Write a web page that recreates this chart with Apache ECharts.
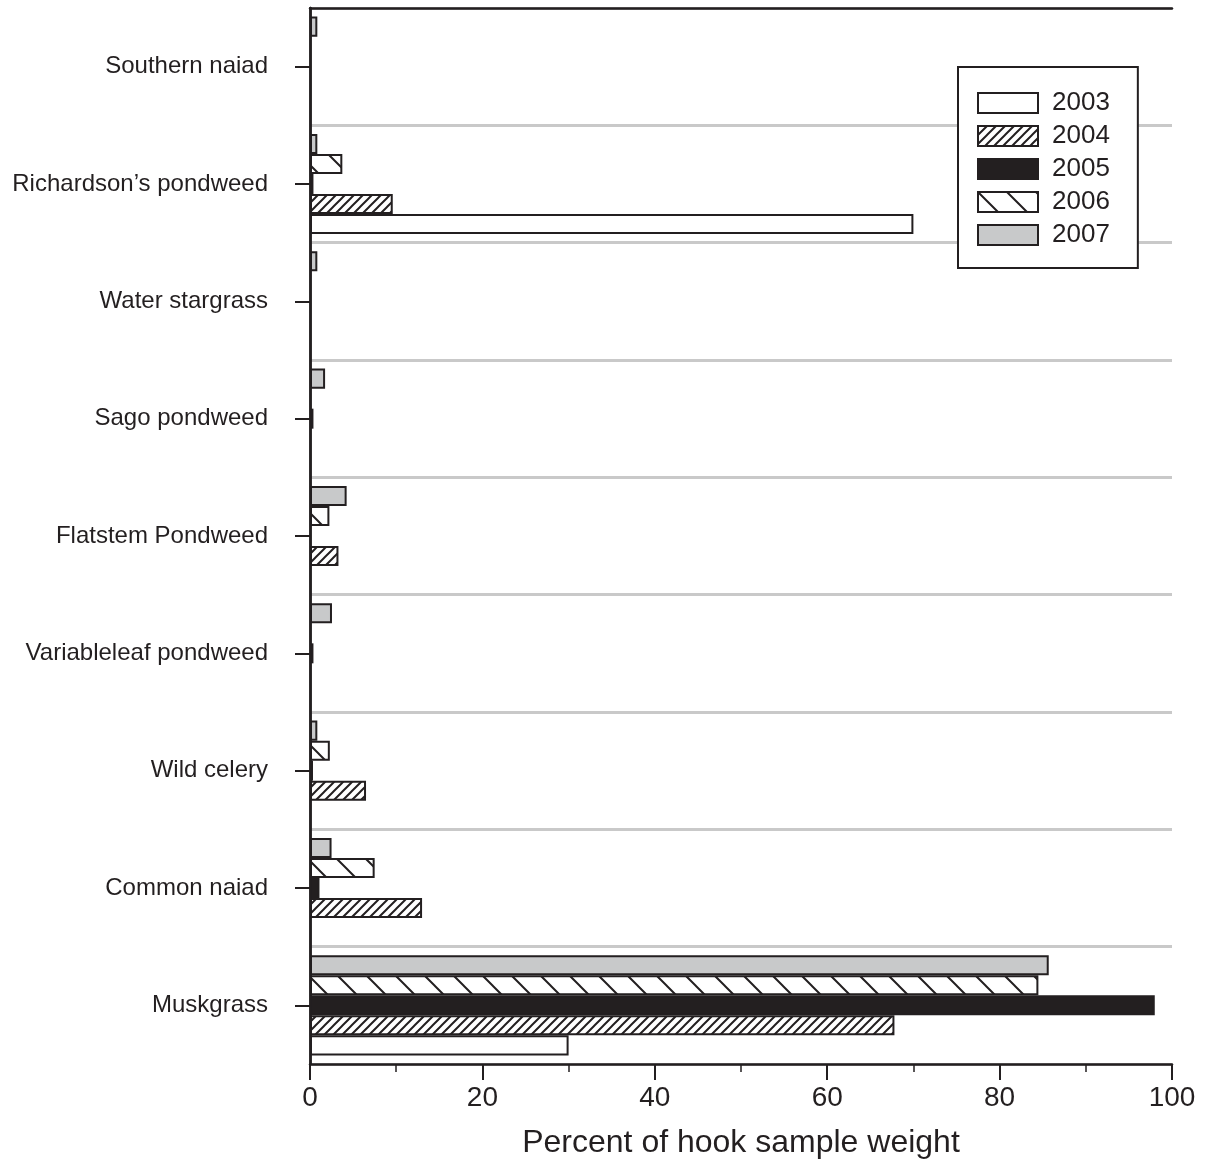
<!DOCTYPE html>
<html>
<head>
<meta charset="utf-8">
<script src="https://cdn.jsdelivr.net/npm/echarts@6/dist/echarts.min.js"></script>
<style>html,body{margin:0;padding:0;background:#fff;}#chart{width:1207px;height:1169px;}</style>
</head>
<body>
<div id="chart"></div>
<script>
// Categories listed bottom to top
const categories = ['Muskgrass', 'Common naiad', 'Wild celery', 'Variableleaf pondweed', 'Flatstem Pondweed', 'Sago pondweed', 'Water stargrass', 'Richardson\u2019s pondweed', 'Southern naiad'];
const years = ['2003', '2004', '2005', '2006', '2007'];
const v2003 = [30.0, null, null, null, null, null, null, 70.0, null];
const v2004 = [67.8, 13.0, 6.5, null, 3.3, null, null, 9.6, null];
const v2005 = [98.0, 1.1, 0.35, 0.4, null, 0.4, null, 0.4, null];
const v2006 = [84.5, 7.5, 2.3, null, 2.25, null, null, 3.75, null];
const v2007 = [85.7, 2.5, 0.85, 2.55, 4.25, 1.75, 0.85, 0.85, 0.85];
const xTicks = [0, 20, 40, 60, 80, 100];

const INK = '#231f20';
const FONT = '"Liberation Sans", Arial, Helvetica, sans-serif';

function hatch(size, dir) {
  const c = document.createElement('canvas');
  c.width = size; c.height = size;
  const g = c.getContext('2d');
  g.fillStyle = '#fff'; g.fillRect(0, 0, size, size);
  g.strokeStyle = INK; g.lineWidth = 2; g.lineCap = 'square';
  g.beginPath();
  if (dir === 'fwd') {
    g.moveTo(0, size); g.lineTo(size, 0);
    g.moveTo(-1, 1); g.lineTo(1, -1);
    g.moveTo(size - 1, size + 1); g.lineTo(size + 1, size - 1);
  } else {
    g.moveTo(0, 0); g.lineTo(size, size);
    g.moveTo(size - 1, -1); g.lineTo(size + 1, 1);
    g.moveTo(-1, size - 1); g.lineTo(1, size + 1);
  }
  g.stroke();
  return { image: c, repeat: 'repeat' };
}

const fills = ['#ffffff', hatch(9, 'fwd'), INK, hatch(29, 'back'), '#c8c9ca'];
const values = [v2003, v2004, v2005, v2006, v2007];

// ECharts stacks grouped horizontal bars top-down, so add series from 2007 to 2003
const order = [4, 3, 2, 1, 0];

const chart = echarts.init(document.getElementById('chart'), null, { renderer: 'canvas' });
chart.setOption({
  animation: false,
  backgroundColor: '#fff',
  textStyle: { fontFamily: FONT, color: INK },
  grid: { left: 310, right: 35, top: 8, bottom: 105, containLabel: false },
  legend: {
    data: years, orient: 'vertical', left: 958, top: 67,
    itemWidth: 60, itemHeight: 20, itemGap: 7, icon: 'rect',
    padding: [23, 28, 20, 19], borderColor: INK, borderWidth: 2, backgroundColor: '#fff',
    textStyle: { fontSize: 26, color: INK, fontFamily: FONT, padding: [0, 0, 0, 9] },
    z: 20
  },
  xAxis: [{
    type: 'value', min: 0, max: 100, interval: 20, z: 10,
    axisLine: { show: true, lineStyle: { color: INK, width: 2.5 } },
    axisTick: { show: true, length: 16, lineStyle: { color: INK, width: 2 } },
    minorTick: { show: true, splitNumber: 2, length: 8, lineStyle: { color: INK, width: 1.5 } },
    axisLabel: { fontSize: 28, margin: 20, color: INK, fontFamily: FONT, formatter: v => xTicks.includes(v) ? String(v) : '' },
    splitLine: { show: false },
    name: 'Percent of hook sample weight', nameLocation: 'middle', nameGap: 63,
    nameTextStyle: { fontSize: 32, color: INK, fontFamily: FONT }
  }, {
    type: 'value', min: 0, max: 100, position: 'top', z: 10,
    axisLine: { show: true, lineStyle: { color: INK, width: 2.5 } },
    axisTick: { show: false }, axisLabel: { show: false }, splitLine: { show: false }
  }],
  yAxis: [{
    type: 'category', data: categories,
    axisLine: { show: true, lineStyle: { color: INK, width: 2.5 } },
    axisTick: { show: true, alignWithLabel: true, length: 15, lineStyle: { color: INK, width: 2 } },
    axisLabel: { fontSize: 24, margin: 42, color: INK, fontFamily: FONT },
    splitLine: { show: true, lineStyle: { color: '#c9c9c9', width: 3 } }
  }, {
    type: 'category', data: categories, position: 'right', z: 10,
    axisLine: { show: true, lineStyle: { color: INK, width: 2.5 } },
    axisTick: { show: false }, axisLabel: { show: false }, splitLine: { show: false }
  }],
  series: order.map(i => ({
    name: years[i], type: 'bar', data: values[i],
    barGap: '0%', barCategoryGap: '14.7%',
    itemStyle: { color: fills[i], borderColor: INK, borderWidth: 2 },
    emphasis: { disabled: true }
  }))
});
</script>
</body>
</html>
